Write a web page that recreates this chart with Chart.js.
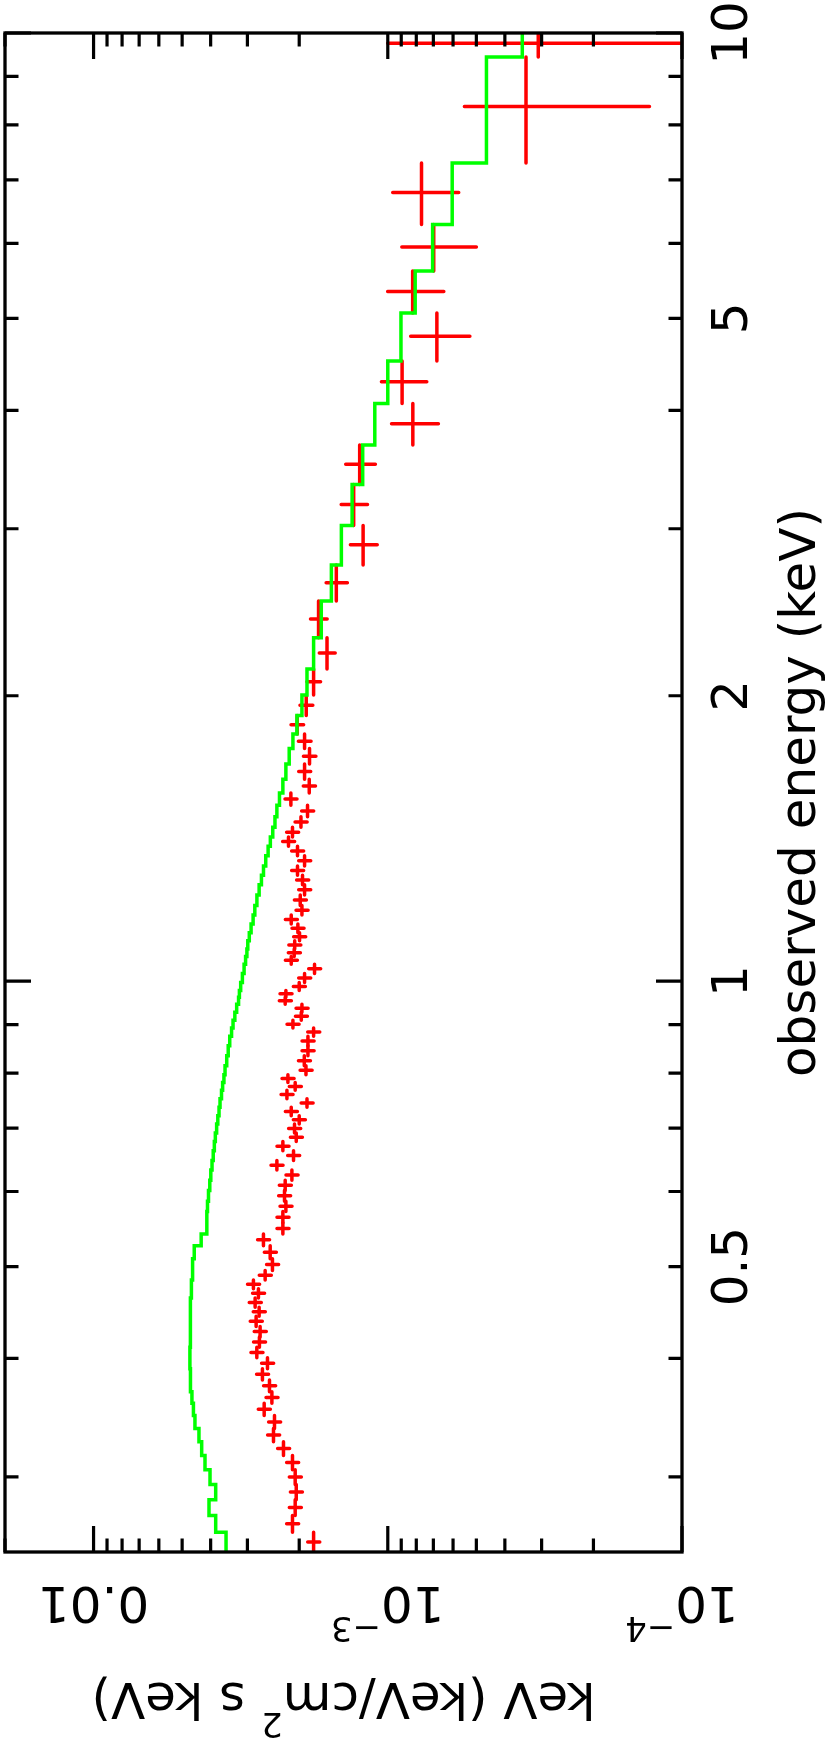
<!DOCTYPE html>
<html>
<head>
<meta charset="utf-8">
<title>Unfolded spectrum</title>
<script src="https://cdn.jsdelivr.net/npm/chart.js@4.4.1/dist/chart.umd.min.js"></script>
<style>
  html, body { margin: 0; padding: 0; background: #fff; }
  canvas { display: block; }
</style>
</head>
<body>
<canvas id="spectrum" width="830" height="1752"></canvas>
<script>
// energy bin edges (keV), contiguous and ascending
const binEdges = [
  0.25, 0.2623, 0.2731, 0.2838, 0.2946, 0.3053, 0.3160, 0.3267, 0.3375, 0.3483,
  0.3587, 0.3690, 0.3796, 0.3902, 0.4006, 0.4111, 0.4215, 0.4324, 0.4431, 0.4531,
  0.4634, 0.4739, 0.4840, 0.4954, 0.5097, 0.5258, 0.5412, 0.5560, 0.5714, 0.5861,
  0.6016, 0.6168, 0.6320, 0.6470, 0.6623, 0.6773, 0.6917, 0.7067, 0.7214, 0.7361,
  0.7518, 0.7671, 0.7819, 0.7969, 0.8141, 0.8341, 0.8546, 0.8746, 0.8926, 0.9092,
  0.9270, 0.9457, 0.9619, 0.9777, 0.9969, 1.019, 1.042, 1.062, 1.081, 1.103,
  1.125, 1.149, 1.174, 1.202, 1.233, 1.264, 1.293, 1.323, 1.356, 1.388,
  1.419, 1.453, 1.491, 1.533, 1.579, 1.633, 1.694, 1.759, 1.822, 1.906,
  2.003, 2.134, 2.303, 2.517, 2.747, 3.023, 3.341, 3.677, 4.067, 4.509,
  5.066, 5.610, 6.281, 7.293, 9.434, 10.07
];

// unfolded data, keV (keV/cm^2 s keV), one per bin
const dataFlux = [
  1.787e-3, 2.108e-3, 2.064e-3, 2.047e-3, 2.064e-3, 2.108e-3, 2.262e-3, 2.446e-3, 2.427e-3, 2.631e-3,
  2.477e-3, 2.524e-3, 2.667e-3, 2.564e-3, 2.787e-3, 2.731e-3, 2.716e-3, 2.802e-3, 2.737e-3, 2.824e-3,
  2.752e-3, 2.862e-3, 2.611e-3, 2.466e-3, 2.510e-3, 2.646e-3,
  2.273e-3, 2.273e-3, 2.220e-3, 2.244e-3, 2.232e-3, 2.118e-3, 2.382e-3, 2.091e-3, 2.273e-3, 2.047e-3,
  2.075e-3, 2.000e-3, 2.129e-3, 1.882e-3, 2.202e-3, 2.064e-3, 2.185e-3, 1.897e-3, 1.922e-3, 1.868e-3,
  1.868e-3, 1.787e-3, 2.101e-3, 1.968e-3, 1.958e-3, 2.232e-3, 2.220e-3, 2.000e-3, 1.918e-3, 1.774e-3,
  2.129e-3, 2.080e-3, 2.072e-3, 1.995e-3, 2.021e-3, 2.129e-3, 1.958e-3, 1.984e-3, 1.918e-3, 1.949e-3,
  2.027e-3, 1.918e-3, 2.027e-3, 2.175e-3, 2.108e-3, 1.973e-3, 1.874e-3, 2.135e-3, 1.849e-3, 1.918e-3,
  1.845e-3, 1.918e-3, 2.032e-3, 1.893e-3, 1.787e-3,
  1.609e-3, 1.719e-3, 1.496e-3, 1.213e-3, 1.306e-3, 1.246e-3, 8.22e-4, 8.94e-4, 6.81e-4, 8.23e-4,
  6.98e-4, 7.68e-4, 3.39e-4, 3.08e-4
];

// 1-sigma errors on the data
const dataErr = [
  8.4e-5, 9.9e-5, 9.7e-5, 9.6e-5, 9.7e-5, 9.9e-5, 1.06e-4, 1.15e-4, 1.14e-4, 1.24e-4,
  1.16e-4, 1.19e-4, 1.25e-4, 1.21e-4, 1.31e-4, 1.28e-4, 1.28e-4, 1.32e-4, 1.29e-4, 1.33e-4,
  1.29e-4, 1.35e-4, 1.23e-4, 1.16e-4, 1.18e-4, 1.24e-4,
  1.07e-4, 1.07e-4, 1.04e-4, 1.05e-4, 1.05e-4, 1.0e-4, 1.12e-4, 9.8e-5, 1.07e-4, 9.6e-5,
  9.8e-5, 9.4e-5, 1.0e-4, 8.8e-5, 1.03e-4, 9.7e-5, 1.03e-4, 8.9e-5, 9.0e-5, 8.8e-5,
  8.8e-5, 8.4e-5, 9.9e-5, 9.2e-5, 9.2e-5, 1.05e-4, 1.04e-4, 9.4e-5, 9.0e-5, 8.3e-5,
  1.0e-4, 9.8e-5, 9.7e-5, 9.4e-5, 9.5e-5, 1.0e-4, 9.2e-5, 9.3e-5, 9.0e-5, 9.2e-5,
  9.5e-5, 9.0e-5, 9.5e-5, 1.02e-4, 9.9e-5, 9.3e-5, 8.8e-5, 1.0e-4, 8.8e-5, 9.0e-5,
  9.0e-5, 9.5e-5, 1.0e-4, 9.5e-5, 9.5e-5,
  1.0e-4, 1.12e-4, 1.24e-4, 1.27e-4, 1.34e-4, 1.44e-4, 1.49e-4, 1.57e-4, 1.55e-4, 1.78e-4,
  1.98e-4, 1.94e-4, 2.10e-4, 6.92e-4
];

// folded model, one value per bin
const modelFlux = [
  3.546e-3, 3.845e-3, 4.052e-3, 3.845e-3, 4.020e-3, 4.181e-3, 4.291e-3, 4.383e-3, 4.523e-3, 4.577e-3,
  4.631e-3, 4.668e-3, 4.693e-3, 4.705e-3, 4.705e-3, 4.701e-3, 4.697e-3, 4.690e-3, 4.682e-3, 4.671e-3,
  4.660e-3, 4.645e-3, 4.624e-3, 4.599e-3, 4.548e-3, 4.308e-3,
  4.132e-3, 4.116e-3, 4.100e-3, 4.068e-3, 4.027e-3, 3.995e-3, 3.957e-3, 3.920e-3, 3.886e-3, 3.856e-3,
  3.817e-3, 3.782e-3, 3.746e-3, 3.717e-3, 3.674e-3, 3.642e-3, 3.605e-3, 3.574e-3, 3.527e-3, 3.486e-3,
  3.445e-3, 3.396e-3, 3.357e-3, 3.310e-3, 3.263e-3, 3.215e-3, 3.194e-3, 3.162e-3, 3.120e-3, 3.079e-3,
  3.043e-3, 3.012e-3, 2.991e-3, 2.956e-3, 2.915e-3, 2.869e-3, 2.831e-3, 2.785e-3, 2.737e-3, 2.688e-3,
  2.645e-3, 2.599e-3, 2.551e-3, 2.507e-3, 2.460e-3, 2.418e-3, 2.382e-3, 2.334e-3, 2.273e-3, 2.220e-3,
  2.163e-3, 2.101e-3, 2.036e-3, 1.958e-3, 1.882e-3,
  1.787e-3, 1.683e-3, 1.555e-3, 1.438e-3, 1.322e-3, 1.217e-3, 1.107e-3, 1.0e-3, 9.02e-4, 8.07e-4,
  7.04e-4, 6.04e-4, 4.62e-4, 3.49e-4
];

// axes
const energyRange = [0.25, 10];
const fluxRange = [1e-4, 0.02];
const energyTickValues = [0.5, 1, 2, 5, 10];
const energyTickLabels = ['0.5', '1', '2', '5', '10'];
const fluxTickValues = [0.01, 0.001, 0.0001];
const fluxTickLabels = [['0.01', ''], ['10', '\u22123'], ['10', '\u22124']];
const xTitle = 'observed energy (keV)';
const yTitle = [['keV (keV/cm', false], ['2', true], [' s keV)', false]];

const FONT = '"DejaVu Sans", sans-serif';
const BIG = 50, SMALL = 34, SUP_RISE = 30;

// green model as a histogram: flat over each bin
const modelSteps = [];
modelFlux.forEach((m, i) => {
  modelSteps.push({ x: m, y: binEdges[i] }, { x: m, y: binEdges[i + 1] });
});
const dataPoints = dataFlux.map((f, i) => ({ x: f, y: (binEdges[i] + binEdges[i + 1]) / 2 }));

function minorTicks(lo, hi) {
  const out = [];
  for (let d = Math.pow(10, Math.floor(Math.log10(lo))); d <= hi; d *= 10) {
    for (let k = 1; k <= 9; k++) {
      const v = k * d;
      if (v >= lo * 0.999 && v <= hi * 1.001) out.push({ v, major: k === 1 });
    }
  }
  return out;
}

// draws a string (with optional superscript parts) centred at 0,0 in the current transform
function drawParts(ctx, parts) {
  let total = 0;
  const widths = parts.map(([t, sup]) => {
    ctx.font = (sup ? SMALL : BIG) + 'px ' + FONT;
    const w = ctx.measureText(t).width;
    total += w;
    return w;
  });
  let x0 = -total / 2;
  ctx.textAlign = 'left';
  parts.forEach(([t, sup], i) => {
    ctx.font = (sup ? SMALL : BIG) + 'px ' + FONT;
    ctx.fillText(t, x0, sup ? -SUP_RISE : 0);
    x0 += widths[i];
  });
}

const pgplotFrame = {
  id: 'pgplotFrame',
  beforeDatasetsDraw(chart) {
    // red data crosses: bin width along energy, 1-sigma along flux
    const { ctx, chartArea: a, scales: { x, y } } = chart;
    ctx.save();
    ctx.beginPath();
    ctx.rect(a.left, a.top, a.right - a.left, a.bottom - a.top);
    ctx.clip();
    ctx.strokeStyle = '#ff0000';
    ctx.lineWidth = 3.5;
    ctx.lineCap = 'round';
    dataPoints.forEach((p, i) => {
      const px = x.getPixelForValue(p.x);
      const py = y.getPixelForValue(p.y);
      const lo = Math.max(p.x - dataErr[i], fluxRange[0] / 2);
      ctx.beginPath();
      ctx.moveTo(px, y.getPixelForValue(binEdges[i]));
      ctx.lineTo(px, y.getPixelForValue(binEdges[i + 1]));
      ctx.moveTo(x.getPixelForValue(lo), py);
      ctx.lineTo(x.getPixelForValue(p.x + dataErr[i]), py);
      ctx.stroke();
    });
    ctx.restore();
  },
  afterDraw(chart) {
    const { ctx, chartArea: a, scales: { x, y } } = chart;
    ctx.save();
    ctx.strokeStyle = '#000';
    ctx.fillStyle = '#000';
    ctx.lineWidth = 3.3;
    ctx.strokeRect(a.left, a.top, a.right - a.left, a.bottom - a.top);

    // ticks point inwards on all four sides
    ctx.lineWidth = 3.2;
    ctx.beginPath();
    minorTicks(energyRange[0], energyRange[1]).forEach(t => {
      const len = t.major ? 26 : 13.5;
      const py = y.getPixelForValue(t.v);
      ctx.moveTo(a.left, py); ctx.lineTo(a.left + len, py);
      ctx.moveTo(a.right, py); ctx.lineTo(a.right - len, py);
    });
    minorTicks(fluxRange[0], fluxRange[1]).forEach(t => {
      const len = t.major ? 26 : 13.5;
      const px = x.getPixelForValue(t.v);
      ctx.moveTo(px, a.top); ctx.lineTo(px, a.top + len);
      ctx.moveTo(px, a.bottom); ctx.lineTo(px, a.bottom - len);
    });
    ctx.stroke();

    ctx.textBaseline = 'alphabetic';
    // energy labels read bottom to top
    energyTickValues.forEach((v, i) => {
      ctx.save();
      ctx.translate(a.right + 64.5, y.getPixelForValue(v));
      ctx.rotate(-Math.PI / 2);
      drawParts(ctx, [[energyTickLabels[i], false]]);
      ctx.restore();
    });
    ctx.save();
    ctx.translate(a.right + 133, (a.top + a.bottom) / 2);
    ctx.rotate(-Math.PI / 2);
    drawParts(ctx, [[xTitle, false]]);
    ctx.restore();

    // flux labels are upside down
    fluxTickValues.forEach((v, i) => {
      const [base, sup] = fluxTickLabels[i];
      ctx.save();
      ctx.translate(x.getPixelForValue(v), a.bottom + 35);
      ctx.rotate(Math.PI);
      drawParts(ctx, sup ? [[base, false], [sup, true]] : [[base, false]]);
      ctx.restore();
    });
    ctx.save();
    ctx.translate((a.left + a.right) / 2, a.bottom + 131);
    ctx.rotate(Math.PI);
    drawParts(ctx, yTitle);
    ctx.restore();
    ctx.restore();
  }
};

new Chart(document.getElementById('spectrum'), {
  type: 'scatter',
  data: {
    datasets: [
      {
        label: 'model',
        data: modelSteps,
        showLine: true,
        borderColor: '#00ff00',
        borderWidth: 3.5,
        pointRadius: 0,
        tension: 0,
        fill: false
      },
      {
        label: 'data',
        data: dataPoints,
        pointRadius: 0,
        borderColor: '#ff0000'
      }
    ]
  },
  options: {
    responsive: false,
    animation: false,
    events: [],
    layout: { padding: { left: 5, top: 33, right: 148, bottom: 200 } },
    plugins: { legend: { display: false }, tooltip: { enabled: false } },
    scales: {
      x: { type: 'logarithmic', reverse: true, min: fluxRange[0], max: fluxRange[1], display: false },
      y: { type: 'logarithmic', min: energyRange[0], max: energyRange[1], display: false }
    }
  },
  plugins: [pgplotFrame]
});
</script>
</body>
</html>
